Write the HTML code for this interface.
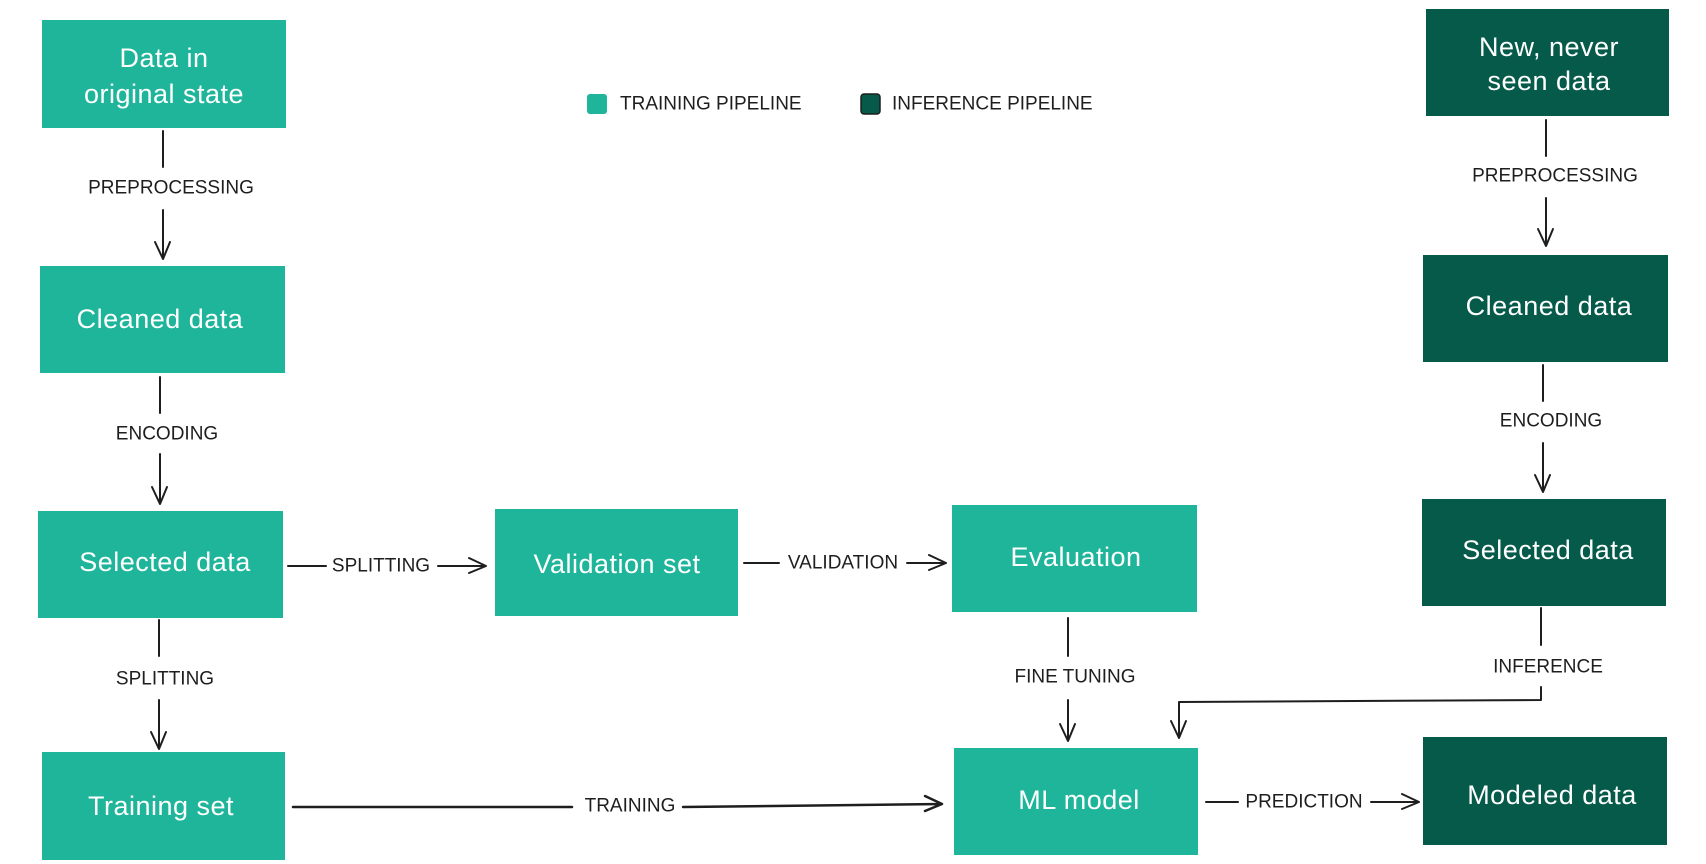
<!DOCTYPE html>
<html><head><meta charset="utf-8"><style>
html,body{margin:0;padding:0;background:#fff;}
svg{display:block}
.bt{font-family:"Comic Sans MS","Liberation Sans",sans-serif;font-size:27px;fill:#fff;text-anchor:middle;dominant-baseline:central;letter-spacing:0.5px}
.lb{font-family:"Liberation Sans",sans-serif;font-size:19px;fill:#1e1e1e;text-anchor:middle;dominant-baseline:central}
.ln{stroke:#1e1e1e;stroke-width:2;fill:none;stroke-linecap:round;stroke-linejoin:round}
</style></head><body>
<svg width="1706" height="864" viewBox="0 0 1706 864" xmlns="http://www.w3.org/2000/svg">
<g fill="#1fb59b">
<rect x="42" y="20" width="244" height="108"/>
<rect x="40" y="266" width="245" height="107"/>
<rect x="38" y="511" width="245" height="107"/>
<rect x="42" y="752" width="243" height="108"/>
<rect x="495" y="509" width="243" height="107"/>
<rect x="952" y="505" width="245" height="107"/>
<rect x="954" y="748" width="244" height="107"/>
<rect x="587" y="94" width="20" height="20" rx="3"/>
</g>
<g fill="#065a4a">
<rect x="1426" y="9" width="243" height="107"/>
<rect x="1423" y="255" width="245" height="107"/>
<rect x="1422" y="499" width="244" height="107"/>
<rect x="1423" y="737" width="244" height="108"/>
<rect x="861" y="94" width="19" height="20" rx="3" stroke="#1e1e1e" stroke-width="1.5"/>
</g>
<text class="bt" x="164" y="58">Data in</text>
<text class="bt" x="164" y="94">original state</text>
<text class="bt" x="160" y="319">Cleaned data</text>
<text class="bt" x="165" y="562">Selected data</text>
<text class="bt" x="161" y="806">Training set</text>
<text class="bt" x="617" y="564">Validation set</text>
<text class="bt" x="1076" y="557">Evaluation</text>
<text class="bt" x="1079" y="800">ML model</text>
<text class="bt" x="1549" y="47">New, never</text>
<text class="bt" x="1549" y="81">seen data</text>
<text class="bt" x="1549" y="306">Cleaned data</text>
<text class="bt" x="1548" y="550">Selected data</text>
<text class="bt" x="1552" y="795">Modeled data</text>
<text class="lb" x="620" y="104" style="text-anchor:start">TRAINING PIPELINE</text>
<text class="lb" x="892" y="104" style="text-anchor:start">INFERENCE PIPELINE</text>
<g class="ln">
<path d="M163 131V167M163 210V259M155 242L163 259L170 242"/>
<path d="M160 377V413M160 454V504M152 487L160 504L167 487"/>
<path d="M159 620V656M159 700V749M151 732L159 749L166 732"/>
<path d="M288 566H326M438 566H486M469 558L486 566L469 573"/>
<path d="M744 563H779M907 563H946M929 555L946 563L929 570"/>
<path d="M1068 618V656M1068 700V741M1060 724L1068 741L1075 724"/>
<path d="M293 807H572M683 807L942 804M925 796L942 804L925 811" stroke-width="2.5"/>
<path d="M1206 802H1238M1371 802H1419M1402 794L1419 802L1402 809"/>
<path d="M1546 120V156M1546 198V246M1538 229L1546 246L1553 229"/>
<path d="M1543 365V401M1543 443V492M1535 475L1543 492L1550 475"/>
<path d="M1541 608V645M1541 687V700L1179 702V738M1171 721L1179 738L1186 721"/>
</g>
<text class="lb" x="171" y="188">PREPROCESSING</text>
<text class="lb" x="167" y="434">ENCODING</text>
<text class="lb" x="165" y="679">SPLITTING</text>
<text class="lb" x="381" y="566">SPLITTING</text>
<text class="lb" x="843" y="563">VALIDATION</text>
<text class="lb" x="1075" y="677">FINE TUNING</text>
<text class="lb" x="630" y="806">TRAINING</text>
<text class="lb" x="1304" y="802">PREDICTION</text>
<text class="lb" x="1555" y="176">PREPROCESSING</text>
<text class="lb" x="1551" y="421">ENCODING</text>
<text class="lb" x="1548" y="667">INFERENCE</text>
</svg>
</body></html>
